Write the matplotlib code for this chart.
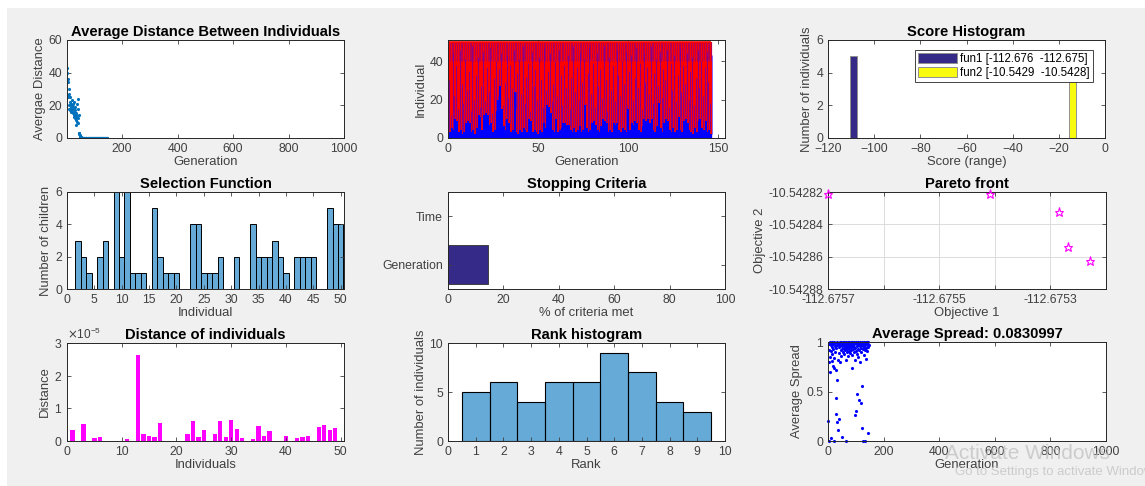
import numpy as np
import matplotlib.pyplot as plt
from matplotlib.patches import Rectangle
from matplotlib.ticker import ScalarFormatter

plt.rcParams['font.family'] = ['Liberation Sans', 'DejaVu Sans']

# ---- data ----
avg_dist = [43, 40, 26, 36, 25, 34, 18, 30, 27, 20,
            22, 17, 25, 19, 21, 18, 16, 20, 23, 17,
            19, 15, 21, 18, 14, 22, 13, 16, 19, 12,
            17, 11, 15, 8, 14, 10, 21, 13, 9, 24,
            18, 12, 14, 3, 3, 2.5, 2, 1.2, 0.8, 0.5,
            0.4, 0.3, 0.3, 0.2, 0.2, 0.15, 0.1, 0.1, 0.08, 0.06,
            0.05, 0.04, 0.05, 0.03, 0.04, 0.03, 0.02, 0.03, 0.02, 0.02,
            0.02, 0.01, 0.02, 0.01, 0.01, 0.02, 0.01, 0.01, 0.01, 0.01,
            0.01, 0.01, 0.01, 0.01, 0.01, 0.01, 0.01, 0.01, 0.01, 0.01,
            0.01, 0.01, 0.01, 0.01, 0.01, 0.01, 0.01, 0.01, 0.01, 0.01,
            0.01, 0.01, 0.01, 0.01, 0.01, 0.01, 0.01, 0.01, 0.01, 0.01,
            0.01, 0.01, 0.01, 0.01, 0.01, 0.01, 0.01, 0.01, 0.01, 0.01,
            0.01, 0.01, 0.01, 0.01, 0.01, 0.01, 0.01, 0.01, 0.01, 0.01,
            0.01, 0.01, 0.01, 0.01, 0.01, 0.01, 0.01, 0.01, 0.01, 0.01,
            0.01, 0.01, 0.01, 0.01, 0.01, 0.01]

pop_size = 50
# genealogy: height reached by mutation (blue) children in each generation
blue_top = [4, 3, 5, 4, 10, 9, 3, 4, 2, 3,
            8, 9, 8, 3, 4, 2, 5, 12, 11, 4,
            12, 13, 12, 7, 8, 3, 4, 14, 20, 27,
            15, 6, 4, 10, 8, 3, 4, 24, 3, 2,
            4, 3, 5, 4, 3, 10, 9, 3, 4, 3,
            2, 4, 3, 8, 5, 17, 16, 13, 4, 3,
            10, 3, 4, 5, 8, 8, 7, 7, 4, 3,
            5, 3, 4, 6, 3, 4, 17, 5, 3, 4,
            8, 9, 7, 4, 3, 6, 10, 9, 8, 3,
            4, 3, 8, 7, 8, 4, 3, 5, 4, 3,
            15, 4, 8, 7, 9, 8, 4, 3, 6, 10,
            9, 10, 8, 10, 4, 3, 6, 18, 5, 3,
            8, 10, 9, 4, 3, 5, 3, 4, 11, 4,
            3, 9, 10, 8, 4, 3, 2, 5, 3, 9,
            10, 5, 4, 9, 3, 4, 2]
# thin mutation lines that reach further up the population
blue_reach = [30, 12, 44, 22, 38, 15, 46, 28, 18, 41,
              25, 35, 14, 48, 20, 33, 42, 16, 27, 45,
              19, 37, 24, 47, 13, 31, 40, 22, 36, 44,
              17, 29, 43, 21, 38, 26, 46, 15, 34, 41,
              23, 48, 18, 32, 39, 14, 45, 27, 36, 20,
              42, 30, 16, 47, 25, 35, 44, 19, 28, 40,
              22, 46, 33, 17, 38, 26, 43, 15, 31, 48,
              24, 37, 20, 45, 29, 41, 18, 34, 47, 23,
              39, 16, 44, 27, 36, 21, 48, 30, 14, 42,
              25, 38, 19, 46, 33, 22, 40, 28, 45, 17,
              35, 43, 20, 31, 47, 26, 39, 15, 44, 29,
              37, 23, 48, 18, 34, 41, 27, 45, 21, 36,
              30, 46, 16, 39, 25, 43, 19, 33, 47, 24,
              38, 28, 44, 20, 35, 42, 17, 31, 46, 26,
              40, 22, 37, 45, 29, 18, 43]

score_bins = [-107.57, -97.36, -87.14, -76.93, -66.72, -56.50, -46.29, -36.08, -25.86, -15.65]
fun1_counts = [5, 0, 0, 0, 0, 0, 0, 0, 0, 0]
fun2_counts = [0, 0, 0, 0, 0, 0, 0, 0, 0, 5]

children = [0, 3, 2, 1, 0, 2, 3, 0, 6, 2,
            6, 1, 1, 1, 0, 5, 2, 1, 1, 1,
            0, 0, 4, 4, 1, 1, 1, 2, 0, 0,
            2, 0, 0, 4, 2, 2, 2, 3, 2, 1,
            0, 2, 2, 2, 2, 0, 0, 5, 4, 4]

criteria = ['Generation', 'Time']
criteria_met = [14.6, 0]

pareto_f1 = [-112.67570, -112.675409, -112.675285, -112.675268, -112.675228]
pareto_f2 = [-10.542821, -10.542821, -10.5428326, -10.542854, -10.5428627]

dist_ind = [0.34, 0, 0.51, 0, 0.08, 0.11, 0, 0, 0, 0,
            0.07, 0, 2.63, 0.20, 0.16, 0.13, 0.54, 0, 0, 0,
            0, 0.22, 0.62, 0.11, 0.33, 0, 0.21, 0.61, 0.11, 0.64,
            0.36, 0.09, 0, 0.07, 0.46, 0.16, 0.31, 0, 0, 0.16,
            0, 0.08, 0.11, 0.16, 0, 0.44, 0.49, 0.34, 0.40]

rank_counts = [5, 6, 4, 6, 6, 9, 7, 4, 3]

spread = [0.20, 0.00, 0.92, 0.80, 0.98, 0.70, 1.00, 0.85, 0.97, 0.91,
          0.99, 0.03, 0.81, 0.95, 1.00, 0.88, 0.76, 0.98, 0.93, 0.74,
          1.00, 0.84, 0.00, 0.96, 0.90, 0.99, 0.27, 0.94, 0.72, 0.43,
          1.00, 0.19, 0.62, 0.97, 0.82, 0.11, 0.98, 0.22, 0.89, 0.99,
          0.95, 1.00, 0.80, 0.97, 0.92, 0.99, 0.86, 1.00, 0.96, 0.04,
          0.98, 0.93, 1.00, 0.90, 0.97, 0.99, 0.94, 0.88, 1.00, 0.96,
          0.92, 0.98, 0.82, 1.00, 0.95, 0.00, 0.97, 0.90, 0.99, 0.93,
          1.00, 0.86, 0.96, 0.98, 0.91, 1.00, 0.94, 0.97, 0.89, 0.99,
          0.95, 1.00, 0.92, 0.98, 0.87, 0.96, 1.00, 0.74, 0.93, 0.99,
          0.97, 0.90, 1.00, 0.95, 0.98, 0.82, 0.94, 0.26, 0.99, 0.91,
          1.00, 0.30, 0.96, 0.88, 0.47, 0.98, 0.93, 1.00, 0.85, 0.97,
          0.41, 0.99, 0.92, 0.96, 1.00, 0.80, 0.94, 0.98, 0.90, 0.38,
          0.13, 0.56, 0.97, 1.00, 0.93, 0.00, 0.99, 0.87, 0.95, 1.00,
          0.96, 0.92, 0.98, 0.00, 1.00, 0.94, 0.83, 0.99, 0.97, 1.00,
          0.91, 0.98, 0.95, 0.08, 1.00, 0.97]

# ---- figure ----
W, H = 1145, 486
fig = plt.figure(figsize=(W / 100, H / 100), dpi=100)
fig.patch.set_facecolor('white')
fig.add_artist(Rectangle((7 / W, 0), 1, (H - 8) / H, transform=fig.transFigure,
                         facecolor='#f0f0f0', edgecolor='none', zorder=-10))

TXT = '#404040'
hist_face = (0.0, 0.447, 0.741, 0.6)
navy = '#352a87'


def place(left, top, right, bottom):
    ax = fig.add_axes([left / W, 1 - bottom / H, (right - left) / W, (bottom - top) / H])
    ax.tick_params(direction='in', top=True, right=True, labelsize=8.8,
                   colors=TXT, length=3, width=0.6)
    for s in ax.spines.values():
        s.set_color('#262626')
        s.set_linewidth(0.7)
    return ax


def labels(ax, title, xl, yl):
    if title:
        ax.set_title(title, fontsize=10.6, fontweight='bold', pad=3)
    ax.set_xlabel(xl, fontsize=9.4, color=TXT, labelpad=1)
    ax.set_ylabel(yl, fontsize=9.4, color=TXT, labelpad=2)


gens = np.arange(1, len(avg_dist) + 1)

# 1 average distance
ax = place(67, 40, 344, 138)
ax.plot(gens, avg_dist, '.', color='#0072bd', ms=2.5)
ax.set_xlim(1, 1000)
ax.set_ylim(0, 60)
ax.set_xticks([200, 400, 600, 800, 1000])
ax.set_yticks([0, 20, 40, 60])
labels(ax, 'Average Distance Between Individuals', 'Generation', 'Avergae Distance')

# 2 genealogy
ax = place(448, 40, 725, 138)
g = np.arange(len(blue_top))
ax.vlines(g, 0, pop_size, color='red', lw=1.6)
ax.vlines(g + 0.5, blue_top, blue_reach, color='#2a00ff', lw=0.6, alpha=0.65)
ax.vlines(g, 0.8 * pop_size, pop_size, color='#5000c8', lw=0.6, alpha=0.5)
ax.vlines(g, 0, blue_top, color='blue', lw=1.6)
ax.hlines(pop_size, 0, len(blue_top) - 1, color='red', lw=1.2)
ax.set_xlim(0, 153.7)
ax.set_ylim(0, 51)
ax.set_xticks([0, 50, 100, 150])
ax.set_yticks([0, 20, 40])
labels(ax, None, 'Generation', 'Individual')

# 3 score histogram
ax = place(828, 40, 1105, 138)
sb = np.array(score_bins)
ax.bar(sb - 1.5, fun1_counts, width=2.9, color=navy, edgecolor='#909090', lw=0.7, label='fun1 [-112.676  -112.675]')
ax.bar(sb + 1.5, fun2_counts, width=2.9, color='#f9fb0e', edgecolor='#909090', lw=0.7, label='fun2 [-10.5429  -10.5428]')
ax.set_xlim(-120, 0)
ax.set_ylim(-0.02, 6)
ax.set_xticks([-120, -100, -80, -60, -40, -20, 0])
ax.set_yticks([0, 2, 4, 6])
leg = ax.legend(loc='upper right', bbox_to_anchor=(0.965, 0.92), fontsize=8.3, frameon=True,
                fancybox=False, handlelength=3.4, handleheight=1.0, borderpad=0.25,
                labelspacing=0.15, handletextpad=0.3, borderaxespad=0.2)
leg.get_frame().set_edgecolor('#262626')
leg.get_frame().set_linewidth(0.6)
leg.get_frame().set_alpha(1)
labels(ax, 'Score Histogram', 'Score (range)', 'Number of individuals')

# 4 selection function
ax = place(67, 192, 344, 289)
ax.bar(np.arange(1, len(children) + 1), children, width=1.0, color=hist_face, edgecolor='k', lw=0.7)
ax.set_xlim(0, 50.6)
ax.set_ylim(0, 6)
ax.set_xticks(range(0, 51, 5))
ax.set_yticks([0, 2, 4, 6])
labels(ax, 'Selection Function', 'Individual', 'Number of children')

# 5 stopping criteria
ax = place(448, 192, 725, 289)
ax.barh([1, 2], criteria_met, height=0.8, color=navy, edgecolor='#404040', lw=0.7)
ax.set_yticks([1, 2])
ax.set_yticklabels(criteria)
ax.set_xlim(0, 100)
ax.set_ylim(0.5, 2.5)
ax.set_xticks([0, 20, 40, 60, 80, 100])
labels(ax, 'Stopping Criteria', '% of criteria met', '')

# 6 pareto front
ax = place(828, 192, 1106, 289)
ax.plot(pareto_f1, pareto_f2, linestyle='none', marker='*', ms=6.5, mfc='none',
        mec='#ff00ff', mew=0.8, clip_on=False, zorder=5)
ax.set_xlim(-112.6757, -112.6752)
ax.set_ylim(-10.54288, -10.54282)
xt = [-112.6757, -112.6756, -112.6755, -112.6754, -112.6753, -112.6752]
ax.set_xticks(xt)
ax.set_xticklabels(['-112.6757', '', '-112.6755', '', '-112.6753', ''])
yt = [-10.54288, -10.54286, -10.54284, -10.54282]
ax.set_yticks(yt)
ax.set_yticklabels(['-10.54288', '-10.54286', '-10.54284', '-10.54282'])
ax.grid(True, color='#dcdcdc', lw=0.7)
ax.set_axisbelow(True)
labels(ax, 'Pareto front', 'Objective 1', 'Objective 2')

# 7 distance of individuals
ax = place(67, 343, 344, 441)
ax.bar(np.arange(1, len(dist_ind) + 1), np.array(dist_ind) * 1e-5, width=0.8, color='#ff00ff')
ax.set_xlim(0, 50.6)
ax.set_ylim(0, 3e-5)
ax.set_xticks([0, 10, 20, 30, 40, 50])
ax.set_yticks([0, 1e-5, 2e-5, 3e-5])
fmt = ScalarFormatter(useMathText=True)
fmt.set_powerlimits((0, 0))
ax.yaxis.set_major_formatter(fmt)
ax.yaxis.get_offset_text().set_fontsize(8.5)
ax.yaxis.get_offset_text().set_color(TXT)
labels(ax, 'Distance of individuals', 'Individuals', 'Distance')

# 8 rank histogram
ax = place(448, 343, 725, 441)
ax.bar(np.arange(1, len(rank_counts) + 1), rank_counts, width=1.0, color=hist_face, edgecolor='k', lw=0.8)
ax.set_xlim(0, 10)
ax.set_ylim(0, 10)
ax.set_xticks(range(0, 11))
ax.set_yticks([0, 5, 10])
labels(ax, 'Rank histogram', 'Rank', 'Number of individuals')

# 9 average spread
ax = place(828, 342, 1106, 441)
ax.plot(np.arange(1, len(spread) + 1), spread, '.', color='blue', ms=2.5, clip_on=False)
ax.set_xlim(0, 1000)
ax.set_ylim(0, 1)
ax.set_xticks([0, 200, 400, 600, 800, 1000])
ax.set_yticks([0, 0.5, 1])
ax.set_yticklabels(['0', '0.5', '1'])
labels(ax, 'Average Spread: 0.0830997', 'Generation', 'Average Spread')

# windows watermark from the screenshot
fig.text(945 / W, 1 - 459 / H, 'Activate Windows', fontsize=15, color='#c0c0c0', alpha=0.75)
fig.text(955 / W, 1 - 475 / H, 'Go to Settings to activate Windows.', fontsize=9.5,
         color='#c0c0c0', alpha=0.75)

fig.savefig('out.png', dpi=100, facecolor=fig.get_facecolor())
